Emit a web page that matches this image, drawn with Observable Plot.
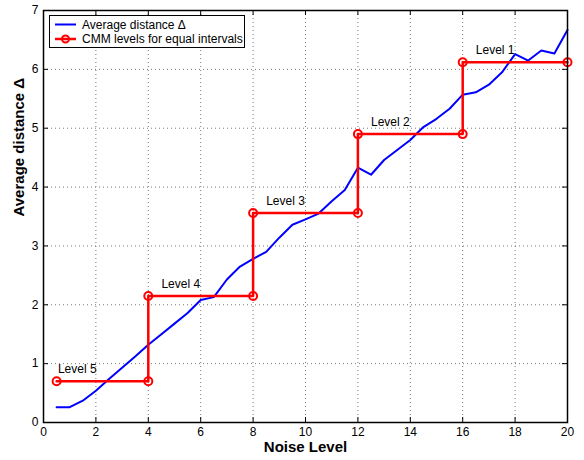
<!DOCTYPE html>
<html>
<head>
<meta charset="utf-8">
<script src="https://cdn.jsdelivr.net/npm/d3@7"></script>
<script src="https://cdn.jsdelivr.net/npm/@observablehq/plot@0.6"></script>
<style>
  html, body { margin: 0; padding: 0; background: #fff; }
  #wrap { position: relative; width: 584px; height: 460px; font-family: "Liberation Sans", Arial, Helvetica, sans-serif; }
  #legend { position: absolute; left: 49px; top: 15px; width: 196px; height: 33px; box-sizing: border-box;
            border: 1px solid #000; background: #fff; }
  #legend svg { position: absolute; left: 0; top: 0; }
</style>
</head>
<body>
<div id="wrap"></div>
<script>
// Average distance Δ (blue line)
const noiseLevels = [0.5, 1, 1.5, 2, 2.5, 3, 3.5, 4, 4.5, 5, 5.5, 6, 6.5, 7, 7.5, 8, 8.5, 9, 9.5, 10,
                     10.5, 11, 11.5, 12, 12.5, 13, 13.5, 14, 14.5, 15, 15.5, 16, 16.5, 17, 17.5, 18, 18.5, 19, 19.5, 20];
const avgDistance = [0.26, 0.26, 0.37, 0.54, 0.74, 0.93, 1.12, 1.32, 1.50, 1.68, 1.86, 2.08, 2.13, 2.43, 2.65, 2.78, 2.90, 3.14, 3.36, 3.45,
                     3.55, 3.76, 3.95, 4.33, 4.21, 4.46, 4.63, 4.80, 5.02, 5.16, 5.33, 5.57, 5.61, 5.74, 5.95, 6.26, 6.15, 6.32, 6.27, 6.67];

// CMM levels for equal intervals (red staircase)
const cmmX = [0.5, 4, 4, 8, 8, 12, 12, 16, 16, 20];
const cmmY = [0.70, 0.70, 2.15, 2.15, 3.56, 3.56, 4.90, 4.90, 6.12, 6.12];

// Level labels
const levelNames = ["Level 5", "Level 4", "Level 3", "Level 2", "Level 1"];
const levelLabelX = [0.55, 4.5, 8.5, 12.5, 16.5];
const levelValues = [0.70, 2.15, 3.56, 4.90, 6.12];

const xTicks = [0, 2, 4, 6, 8, 10, 12, 14, 16, 18, 20];
const yTicks = [0, 1, 2, 3, 4, 5, 6, 7];
const xGrid = [2, 4, 6, 8, 10, 12, 14, 16, 18];
const yGrid = [1, 2, 3, 4, 5, 6];

const blue = noiseLevels.map((x, i) => ({x, y: avgDistance[i]}));
const red = cmmX.map((x, i) => ({x, y: cmmY[i]}));
const labels = levelNames.map((name, i) => ({name, x: levelLabelX[i], y: levelValues[i]}));

const W = 584, H = 460, mL = 43, mR = 17, mT = 10, mB = 38;
const innerH = H - mT - mB, innerW = W - mL - mR;
const tk = 5;

const chart = Plot.plot({
  width: W, height: H,
  marginLeft: mL, marginRight: mR, marginTop: mT, marginBottom: mB,
  x: {domain: [0, 20]},
  y: {domain: [0, 7]},
  style: {fontFamily: "'Liberation Sans', Arial, Helvetica, sans-serif", fontSize: "12px", color: "#000", background: "#fff"},
  marks: [
    Plot.ruleX(xGrid, {x: d => d, stroke: "#777", strokeWidth: 1, strokeDasharray: "1,3"}),
    Plot.ruleY(yGrid, {y: d => d, stroke: "#777", strokeWidth: 1, strokeDasharray: "1,3"}),
    // inward ticks
    Plot.ruleX(xTicks, {x: d => d, insetTop: innerH - tk, stroke: "#000", strokeWidth: 1}),
    Plot.ruleX(xTicks, {x: d => d, insetBottom: innerH - tk, stroke: "#000", strokeWidth: 1}),
    Plot.ruleY(yTicks, {y: d => d, insetRight: innerW - tk, stroke: "#000", strokeWidth: 1}),
    Plot.ruleY(yTicks, {y: d => d, insetLeft: innerW - tk, stroke: "#000", strokeWidth: 1}),
    Plot.axisX(xTicks, {tickSize: 0, tickPadding: 5, label: null, fontSize: 12, tickFormat: d => String(d)}),
    Plot.axisY(yTicks, {tickSize: 0, tickPadding: 5, label: null, fontSize: 12, tickFormat: d => String(d)}),
    Plot.line(blue, {x: "x", y: "y", stroke: "#0000ff", strokeWidth: 2}),
    Plot.line(red, {x: "x", y: "y", stroke: "#ff0000", strokeWidth: 2.5}),
    Plot.dot(red, {x: "x", y: "y", r: 4, stroke: "#ff0000", strokeWidth: 2, fill: "none"}),
    Plot.text(labels, {x: "x", y: "y", text: "name", textAnchor: "start", dy: -12, fontSize: 12, fill: "#000"}),
    Plot.frame({stroke: "#000", strokeWidth: 1.5}),
    Plot.text(["Noise Level"], {frameAnchor: "bottom", text: d => d, dy: 29, fontWeight: "bold", fontSize: 15, fill: "#000"}),
    Plot.text(["Average distance Δ"], {frameAnchor: "left", text: d => d, dx: -24, rotate: -90, fontWeight: "bold", fontSize: 15, fill: "#000"})
  ]
});

const wrap = document.getElementById("wrap");
wrap.appendChild(chart);

const legendItems = [
  {label: "Average distance Δ", color: "#0000ff", marker: false},
  {label: "CMM levels for equal intervals", color: "#ff0000", marker: true}
];
const legend = document.createElement("div");
legend.id = "legend";
const ns = "http://www.w3.org/2000/svg";
const svg = document.createElementNS(ns, "svg");
svg.setAttribute("width", 194);
svg.setAttribute("height", 31);
legendItems.forEach((it, i) => {
  const cy = 8.5 + i * 14.5;
  const ln = document.createElementNS(ns, "line");
  ln.setAttribute("x1", 5); ln.setAttribute("x2", 26);
  ln.setAttribute("y1", cy); ln.setAttribute("y2", cy);
  ln.setAttribute("stroke", it.color); ln.setAttribute("stroke-width", it.marker ? 2.5 : 2);
  svg.appendChild(ln);
  if (it.marker) {
    const c = document.createElementNS(ns, "circle");
    c.setAttribute("cx", 15.5); c.setAttribute("cy", cy); c.setAttribute("r", 3.5);
    c.setAttribute("stroke", it.color); c.setAttribute("stroke-width", 2); c.setAttribute("fill", "none");
    svg.appendChild(c);
  }
  const t = document.createElementNS(ns, "text");
  t.setAttribute("x", 32); t.setAttribute("y", cy); t.setAttribute("dy", "0.35em");
  t.setAttribute("font-size", 12);
  t.setAttribute("font-family", "'Liberation Sans', Arial, sans-serif");
  t.textContent = it.label;
  svg.appendChild(t);
});
legend.appendChild(svg);
wrap.appendChild(legend);
</script>
</body>
</html>
